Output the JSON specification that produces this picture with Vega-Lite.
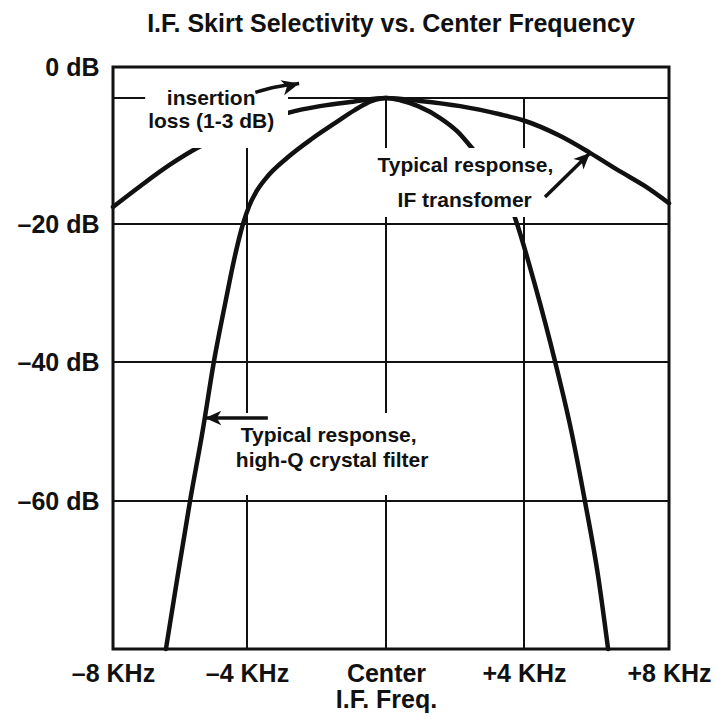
{
  "$schema": "https://vega.github.io/schema/vega-lite/v6.json",
  "width": 556,
  "height": 582,
  "autosize": {"type": "none"},
  "padding": {"left": 113, "top": 67, "right": 53, "bottom": 70},
  "background": "white",
  "title": {"text": "I.F. Skirt Selectivity vs. Center Frequency", "font": "Liberation Sans", "fontSize": 25, "fontWeight": "bold", "color": "#111", "anchor": "middle", "offset": 18},
  "config": {"view": {"stroke": "#111", "strokeWidth": 3}, "font": "Liberation Sans"},
  "datasets": {
    "hgrid": [{"db": -3}, {"db": -20}, {"db": -40}, {"db": -60}],
    "vgrid": [{"khz": -4}, {"khz": 0}, {"khz": 4}],
    "curves": [
      {"curve": "IF transformer", "khz": -8, "db": -17.7},
      {"curve": "IF transformer", "khz": -7.19, "db": -14.9},
      {"curve": "IF transformer", "khz": -6.3, "db": -12.0},
      {"curve": "IF transformer", "khz": -5.49, "db": -9.75},
      {"curve": "IF transformer", "khz": -4.51, "db": -7.7},
      {"curve": "IF transformer", "khz": -3.63, "db": -6.2},
      {"curve": "IF transformer", "khz": -2.82, "db": -5.0},
      {"curve": "IF transformer", "khz": -1.9, "db": -4.1},
      {"curve": "IF transformer", "khz": -0.95, "db": -3.5},
      {"curve": "IF transformer", "khz": 0, "db": -3.0},
      {"curve": "IF transformer", "khz": 0.99, "db": -3.4},
      {"curve": "IF transformer", "khz": 2.15, "db": -4.1},
      {"curve": "IF transformer", "khz": 3.3, "db": -5.2},
      {"curve": "IF transformer", "khz": 3.97, "db": -6.0},
      {"curve": "IF transformer", "khz": 4.99, "db": -8.1},
      {"curve": "IF transformer", "khz": 5.82, "db": -10.4},
      {"curve": "IF transformer", "khz": 6.65, "db": -12.9},
      {"curve": "IF transformer", "khz": 7.34, "db": -14.9},
      {"curve": "IF transformer", "khz": 8, "db": -17.2},
      {"curve": "Crystal filter", "khz": -6.42, "db": -80},
      {"curve": "Crystal filter", "khz": -6.09, "db": -70.7},
      {"curve": "Crystal filter", "khz": -5.7, "db": -60},
      {"curve": "Crystal filter", "khz": -5.32, "db": -49.8},
      {"curve": "Crystal filter", "khz": -4.99, "db": -40},
      {"curve": "Crystal filter", "khz": -4.63, "db": -31.0},
      {"curve": "Crystal filter", "khz": -4.4, "db": -25.5},
      {"curve": "Crystal filter", "khz": -4.12, "db": -20},
      {"curve": "Crystal filter", "khz": -3.94, "db": -17.6},
      {"curve": "Crystal filter", "khz": -3.74, "db": -15.7},
      {"curve": "Crystal filter", "khz": -3.45, "db": -13.8},
      {"curve": "Crystal filter", "khz": -2.85, "db": -11.1},
      {"curve": "Crystal filter", "khz": -2.13, "db": -8.5},
      {"curve": "Crystal filter", "khz": -1.47, "db": -6.4},
      {"curve": "Crystal filter", "khz": -0.89, "db": -4.6},
      {"curve": "Crystal filter", "khz": -0.4, "db": -3.4},
      {"curve": "Crystal filter", "khz": 0, "db": -3.0},
      {"curve": "Crystal filter", "khz": 0.41, "db": -3.3},
      {"curve": "Crystal filter", "khz": 0.93, "db": -4.1},
      {"curve": "Crystal filter", "khz": 1.57, "db": -5.7},
      {"curve": "Crystal filter", "khz": 2.09, "db": -7.6},
      {"curve": "Crystal filter", "khz": 2.49, "db": -9.75},
      {"curve": "Crystal filter", "khz": 3.16, "db": -13.8},
      {"curve": "Crystal filter", "khz": 3.59, "db": -17.2},
      {"curve": "Crystal filter", "khz": 3.8, "db": -20},
      {"curve": "Crystal filter", "khz": 4.3, "db": -28.8},
      {"curve": "Crystal filter", "khz": 4.86, "db": -40},
      {"curve": "Crystal filter", "khz": 5.3, "db": -49.8},
      {"curve": "Crystal filter", "khz": 5.68, "db": -60},
      {"curve": "Crystal filter", "khz": 6.04, "db": -70},
      {"curve": "Crystal filter", "khz": 6.32, "db": -80}
    ],
    "masks": [
      {"x1": -7.04, "x2": -2.82, "y1": -1.26, "y2": -9.75},
      {"x1": -0.4, "x2": 4.88, "y1": -9.75, "y2": -19.05},
      {"x1": -4.45, "x2": 1.42, "y1": -47.34, "y2": -59.14}
    ],
    "labels": [
      {"text": "insertion", "khz": -5.07, "db": -3.94},
      {"text": "loss (1-3 dB)", "khz": -5.07, "db": -7.05},
      {"text": "Typical response,", "khz": 2.3, "db": -12.98},
      {"text": "IF transfomer", "khz": 2.28, "db": -17.7},
      {"text": "Typical response,", "khz": -1.65, "db": -51.5},
      {"text": "high-Q crystal filter", "khz": -1.55, "db": -55.1}
    ],
    "arrows": [
      {"arrow": "insertion", "end": "tail", "khz": -3.76, "db": -2.45},
      {"arrow": "insertion", "end": "mid", "khz": -3.17, "db": -1.94},
      {"arrow": "insertion", "end": "tip", "khz": -2.5, "db": -1.6},
      {"arrow": "transformer", "end": "tail", "khz": 4.58, "db": -16.36},
      {"arrow": "transformer", "end": "tip", "khz": 5.82, "db": -10.42},
      {"arrow": "crystal", "end": "tail", "khz": -3.4, "db": -48.06},
      {"arrow": "crystal", "end": "tip", "khz": -5.25, "db": -48.06}
    ]
  },
  "layer": [
    {
      "data": {"name": "hgrid"},
      "mark": {"type": "rule", "strokeWidth": 2.2, "color": "#111"},
      "encoding": {
        "y": {
          "field": "db", "type": "quantitative",
          "scale": {"type": "linear", "domain": [-80, -60, -40, -20, -3, 0], "range": [582, 434, 295, 157, 31, 0], "nice": false, "zero": false},
          "axis": {"values": [0, -20, -40, -60], "labelExpr": "datum.value == 0 ? '0 dB' : '–' + abs(datum.value) + ' dB'", "title": null, "ticks": false, "domain": false, "grid": false, "labelPadding": 14, "labelFontSize": 25, "labelFont": "Liberation Sans", "labelFontWeight": "bold", "labelColor": "#111", "labelOverlap": false, "labelBound": false, "labelFlush": false}
        }
      }
    },
    {
      "data": {"name": "vgrid"},
      "mark": {"type": "rule", "strokeWidth": 2, "color": "#111"},
      "encoding": {
        "x": {
          "field": "khz", "type": "quantitative",
          "scale": {"type": "linear", "domain": [-8, -4, 0, 4, 8], "range": [0, 134, 273, 411, 556], "nice": false, "zero": false},
          "axis": {"values": [-8, -4, 0, 4, 8], "labelExpr": "datum.value == 0 ? ['Center', 'I.F. Freq.'] : (datum.value < 0 ? '–' + abs(datum.value) + ' KHz' : '+' + datum.value + ' KHz')", "title": null, "ticks": false, "domain": false, "grid": false, "labelPadding": 12, "labelFontSize": 25, "labelLineHeight": 26, "labelFont": "Liberation Sans", "labelFontWeight": "bold", "labelColor": "#111", "labelOverlap": false, "labelFlush": false, "labelBound": false}
        },
        "y": {"datum": -3, "type": "quantitative"},
        "y2": {"datum": -80}
      }
    },
    {
      "data": {"name": "curves"},
      "mark": {"type": "line", "strokeWidth": 4.5, "color": "#111", "interpolate": "monotone", "strokeCap": "round"},
      "encoding": {
        "x": {"field": "khz", "type": "quantitative"},
        "y": {"field": "db", "type": "quantitative"},
        "detail": {"field": "curve"}
      }
    },
    {
      "data": {"name": "masks"},
      "mark": {"type": "rect", "fill": "white", "stroke": null},
      "encoding": {
        "x": {"field": "x1", "type": "quantitative"},
        "x2": {"field": "x2"},
        "y": {"field": "y1", "type": "quantitative"},
        "y2": {"field": "y2"}
      }
    },
    {
      "data": {"name": "labels"},
      "mark": {"type": "text", "font": "Liberation Sans", "fontSize": 21, "fontWeight": "bold", "color": "#111", "align": "center", "baseline": "alphabetic"},
      "encoding": {
        "x": {"field": "khz", "type": "quantitative"},
        "y": {"field": "db", "type": "quantitative"},
        "text": {"field": "text"}
      }
    },
    {
      "data": {"name": "arrows"},
      "mark": {"type": "line", "strokeWidth": 3.5, "color": "#111", "interpolate": "monotone"},
      "encoding": {
        "x": {"field": "khz", "type": "quantitative"},
        "y": {"field": "db", "type": "quantitative"},
        "detail": {"field": "arrow"}
      }
    },
    {
      "data": {"name": "arrows"},
      "transform": [{"filter": "datum.arrow == 'insertion' && datum.end == 'tip'"}],
      "mark": {"type": "point", "shape": "M0,0L-2,-0.9L-1.45,0L-2,0.9Z", "filled": true, "size": 300, "angle": -14, "color": "#111", "opacity": 1},
      "encoding": {"x": {"field": "khz", "type": "quantitative"}, "y": {"field": "db", "type": "quantitative"}}
    },
    {
      "data": {"name": "arrows"},
      "transform": [{"filter": "datum.arrow == 'transformer' && datum.end == 'tip'"}],
      "mark": {"type": "point", "shape": "M0,0L-2,-0.9L-1.45,0L-2,0.9Z", "filled": true, "size": 260, "angle": -44, "color": "#111", "opacity": 1},
      "encoding": {"x": {"field": "khz", "type": "quantitative"}, "y": {"field": "db", "type": "quantitative"}}
    },
    {
      "data": {"name": "arrows"},
      "transform": [{"filter": "datum.arrow == 'crystal' && datum.end == 'tip'"}],
      "mark": {"type": "point", "shape": "M0,0L-2,-0.9L-1.45,0L-2,0.9Z", "filled": true, "size": 260, "angle": 180, "color": "#111", "opacity": 1},
      "encoding": {"x": {"field": "khz", "type": "quantitative"}, "y": {"field": "db", "type": "quantitative"}}
    }
  ]
}
